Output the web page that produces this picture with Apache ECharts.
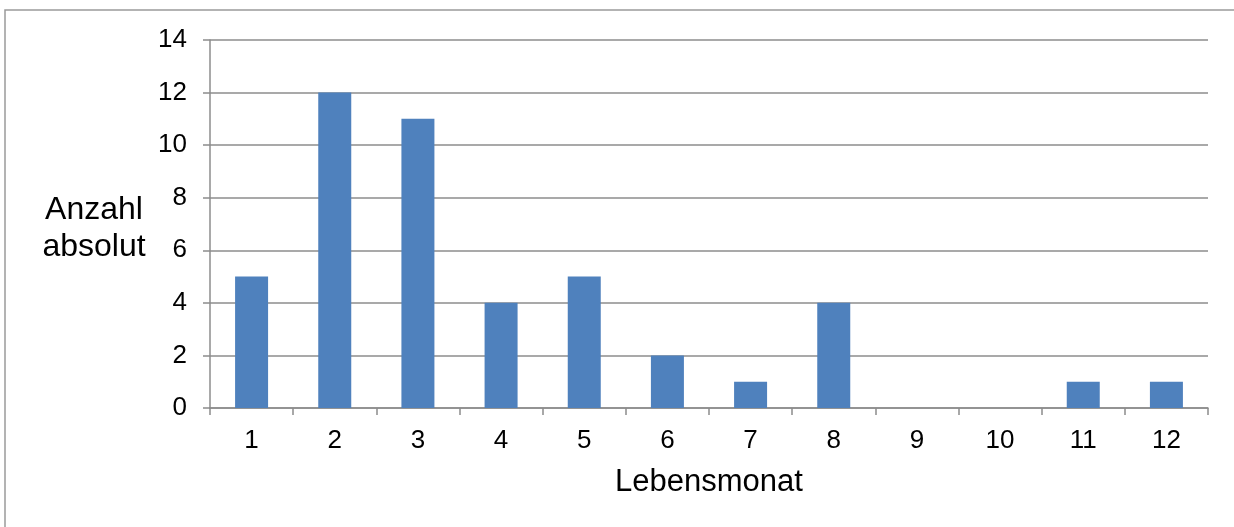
<!DOCTYPE html>
<html>
<head>
<meta charset="utf-8">
<script src="https://cdn.jsdelivr.net/npm/echarts@6/dist/echarts.min.js"></script>
<style>
  html, body { margin: 0; padding: 0; background: #fff; }
  #chart { width: 1234px; height: 527px; }
</style>
</head>
<body>
<div id="chart"></div>
<script>
// Monthly counts (Lebensmonat 1–12)
const months = ['1', '2', '3', '4', '5', '6', '7', '8', '9', '10', '11', '12'];
const counts = [5, 12, 11, 4, 5, 2, 1, 4, 0, 0, 1, 1];

const axisGrey = '#8c8c8c';
const font = '"Liberation Sans", Arial, sans-serif';

const chart = echarts.init(document.getElementById('chart'));
chart.setOption({
  animation: false,
  graphic: [
    {
      type: 'rect',
      shape: { x: 5, y: 10, width: 1300, height: 600 },
      style: { fill: 'none', stroke: '#9a9a9a', lineWidth: 1.5 },
      silent: true
    },
    {
      type: 'text',
      x: 94, y: 229,
      style: {
        text: 'Anzahl\nabsolut',
        font: '32px ' + font,
        fill: '#000',
        align: 'center',
        verticalAlign: 'middle',
        lineHeight: 37
      }
    }
  ],
  grid: { left: 210, right: 26, top: 40, bottom: 119, containLabel: false },
  xAxis: {
    type: 'category',
    data: months,
    name: 'Lebensmonat',
    nameLocation: 'middle',
    nameGap: 59,
    nameTextStyle: { fontFamily: font, fontSize: 31, color: '#000', verticalAlign: 'top' },
    axisLine: { lineStyle: { color: axisGrey, width: 1.5 } },
    axisTick: { show: true, alignWithLabel: false, length: 7, lineStyle: { color: axisGrey, width: 1.5 } },
    axisLabel: { fontFamily: font, fontSize: 26, color: '#000', margin: 20 }
  },
  yAxis: {
    type: 'value',
    min: 0, max: 14, interval: 2,
    axisLine: { show: true, lineStyle: { color: axisGrey, width: 1.5 } },
    axisTick: { show: true, length: 7, lineStyle: { color: axisGrey, width: 1.5 } },
    splitLine: { lineStyle: { color: axisGrey, width: 1.5 } },
    axisLabel: { fontFamily: font, fontSize: 26, color: '#000', margin: 23 }
  },
  series: [{
    type: 'bar',
    data: counts,
    barWidth: 33,
    itemStyle: { color: '#4f81bd' }
  }]
});
</script>
</body>
</html>
